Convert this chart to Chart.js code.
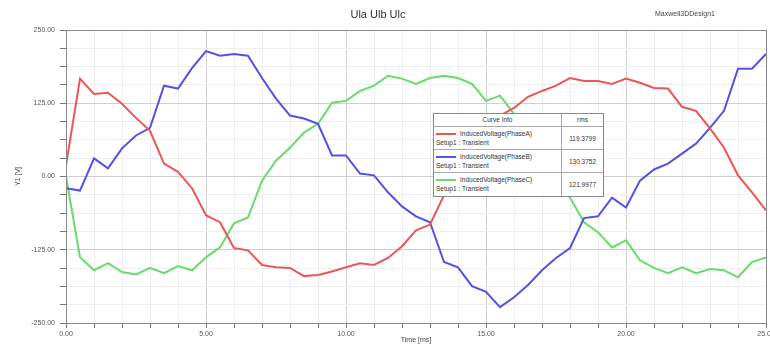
<!DOCTYPE html>
<html>
<head>
<meta charset="utf-8">
<script src="https://cdn.jsdelivr.net/npm/chart.js@4.4.0/dist/chart.umd.min.js"></script>
<style>
  body { margin: 0; background: #fff; }
  #wrap { position: relative; width: 770px; height: 345px; font-family: "Liberation Sans", Arial, sans-serif; }
  #title { position: absolute; left: 0; width: 756px; top: 8px; text-align: center; font-size: 11px; color: #333; }
  #design { position: absolute; left: 655px; top: 10px; font-size: 7px; color: #444; }
  #info { position: absolute; left: 433px; top: 113px; width: 169px; height: 82px; border: 1px solid #888; background: #fff; font-size: 6.5px; color: #333; }
  #info .hd { position: absolute; top: 2px; }
  #info .row { position: absolute; left: 0; width: 169px; height: 23px; border-top: 1px solid #aaa; }
  #info .sw { position: absolute; left: 2px; top: 6px; width: 20px; height: 2px; }
  #info .n1 { position: absolute; left: 26px; top: 3px; }
  #info .n2 { position: absolute; left: 2px; top: 12px; }
  #info .v { position: absolute; left: 128px; width: 41px; text-align: center; top: 8px; }
  #info .col { position: absolute; left: 127px; top: 0; width: 1px; height: 82px; background: #aaa; }
</style>
</head>
<body>
<div id="wrap">
  <canvas id="chart" width="770" height="345"></canvas>
  <div id="title">Ula Ulb Ulc</div>
  <div id="design">Maxwell3DDesign1</div>
  <div id="info"></div>
</div>
<script>
// time samples [ms]
var times = [0, 0.5, 1, 1.5, 2, 2.5, 3, 3.5, 4, 4.5, 5, 5.5, 6, 6.5, 7, 7.5, 8, 8.5, 9, 9.5, 10,
  10.5, 11, 11.5, 12, 12.5, 13, 13.5, 14, 14.5, 15, 15.5, 16, 16.5, 17, 17.5, 18, 18.5, 19, 19.5, 20,
  20.5, 21, 21.5, 22, 22.5, 23, 23.5, 24, 24.5, 25];

var phaseA = [19, 167, 141, 143, 124, 100, 78, 22, 8, -20, -66, -78, -122, -126, -151, -155, -156, -170, -168, -162, -155,
  -148, -151, -139, -119, -92, -82, -32, 27, 61, 87, 104, 117, 136, 146, 155, 168, 163, 163, 158, 167,
  160, 151, 150, 119, 112, 82, 49, 2, -27, -58];

var phaseB = [-20, -24, 31, 14, 48, 70, 83, 155, 150, 185, 214, 206, 209, 206, 168, 133, 104, 99, 90, 36, 36,
  5, 2, -27, -51, -68, -78, -146, -155, -187, -197, -223, -206, -185, -160, -139, -122, -71, -68, -36, -53,
  -7, 12, 22, 39, 56, 83, 112, 184, 184, 209];

var phaseC = [0, -138, -160, -148, -163, -167, -156, -165, -153, -160, -138, -121, -80, -70, -7, 27, 49, 75, 90, 126, 129,
  146, 155, 172, 167, 158, 168, 172, 168, 158, 129, 138, 107, 70, 30, -7, -36, -78, -95, -121, -109,
  -143, -156, -165, -155, -165, -158, -160, -172, -146, -138];

var seriesNames = ["InducedVoltage(PhaseA)", "InducedVoltage(PhaseB)", "InducedVoltage(PhaseC)"];
var rmsValues = ["119.3799", "130.3752", "121.9977"];
var colors = ["#ee5555", "#5252e6", "#66dd66"];

var xTicks = [0, 5, 10, 15, 20, 25];
var yTicks = [-250, -125, 0, 125, 250];

function pts(vals) {
  return times.map(function (t, i) { return { x: t, y: vals[i] }; });
}

var borderPlugin = {
  id: "frame",
  afterDraw: function (chart) {
    var a = chart.chartArea, c = chart.ctx;
    c.save();
    c.strokeStyle = "#888";
    c.lineWidth = 1;
    c.strokeRect(a.left + 0.5, a.top + 0.5, a.right - a.left, a.bottom - a.top);
    c.restore();
  }
};

new Chart(document.getElementById("chart"), {
  type: "line",
  data: {
    datasets: [phaseA, phaseB, phaseC].map(function (v, i) {
      return {
        label: seriesNames[i],
        data: pts(v),
        borderColor: colors[i],
        borderWidth: 2,
        pointRadius: 0,
        tension: 0
      };
    })
  },
  options: {
    responsive: false,
    animation: false,
    layout: { padding: { top: 30, right: 4, left: 0, bottom: 0 } },
    plugins: { legend: { display: false }, tooltip: { enabled: false } },
    scales: {
      x: {
        type: "linear",
        min: 0,
        max: 25,
        afterFit: function (s) { s.height = 22; s.paddingLeft = 0; s.paddingRight = 0; },
        ticks: {
          stepSize: 1,
          autoSkip: false,
          maxRotation: 0,
          padding: 2,
          color: "#555",
          font: { size: 7 },
          callback: function (v) { return xTicks.indexOf(v) >= 0 ? v.toFixed(2) : ""; }
        },
        grid: {
          tickLength: 5,
          tickColor: "#777",
          color: function (c) { return c.tick && c.tick.value % 5 === 0 ? "#d0d0d0" : "#eeeeee"; }
        },
        border: { color: "#666" },
        title: { display: true, text: "Time [ms]", color: "#444", font: { size: 7 }, padding: { top: 0, bottom: 1 } }
      },
      y: {
        min: -250,
        max: 250,
        afterFit: function (s) { s.width = 66; s.paddingTop = 0; s.paddingBottom = 0; },
        afterBuildTicks: function (s) {
          var t = [];
          for (var k = 0; k <= 16; k++) t.push({ value: -250 + k * 31.25 });
          s.ticks = t;
        },
        ticks: {
          autoSkip: false,
          padding: 5,
          color: "#555",
          font: { size: 7 },
          callback: function (v) { return yTicks.indexOf(v) >= 0 ? v.toFixed(2) : ""; }
        },
        grid: {
          tickLength: 6,
          tickColor: "#777",
          color: function (c) { return c.tick && c.tick.value % 125 === 0 ? "#d0d0d0" : "#eeeeee"; }
        },
        border: { color: "#666" },
        title: { display: true, text: "Y1 [V]", color: "#444", font: { size: 7 }, padding: { top: 14, bottom: 0 } }
      }
    }
  },
  plugins: [borderPlugin]
});

// curve info box
var info = document.getElementById("info");
var html = '<div class="col"></div>' +
  '<div class="hd" style="left:0;width:127px;text-align:center">Curve Info</div>' +
  '<div class="hd" style="left:128px;width:41px;text-align:center">rms</div>';
seriesNames.forEach(function (n, i) {
  html += '<div class="row" style="top:' + (12 + i * 23) + 'px">' +
    '<div class="sw" style="background:' + colors[i] + '"></div>' +
    '<div class="n1">' + n + '</div>' +
    '<div class="n2">Setup1 : Transient</div>' +
    '<div class="v">' + rmsValues[i] + '</div></div>';
});
info.innerHTML = html;
</script>
</body>
</html>
